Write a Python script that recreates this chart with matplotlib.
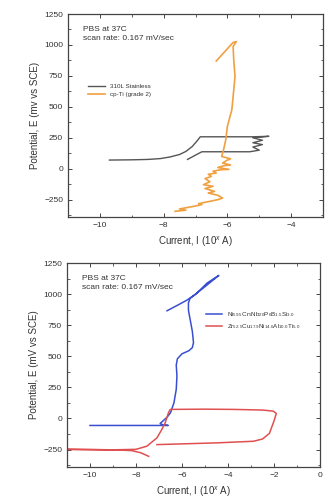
import matplotlib
matplotlib.use("Agg")
import matplotlib.pyplot as plt
from matplotlib.ticker import MultipleLocator, AutoMinorLocator

plt.rcParams["font.family"] = ["Liberation Sans", "DejaVu Sans"]
plt.rcParams["mathtext.fontset"] = "custom"
plt.rcParams["mathtext.rm"] = "Liberation Sans"
plt.rcParams["mathtext.it"] = "Liberation Sans:italic"

# ── dati pannello superiore ──────────────────────────────────────────────
ss_x = [-9.7, -9.0, -8.5, -8.1, -7.8, -7.5, -7.3, -7.1, -6.95, -6.85, -6.0, -5.2,
        -4.7, -5.2, -4.9, -5.2, -4.9, -5.2, -5.0, -5.3, -6.0, -6.8, -7.0, -7.25]
ss_y = [70, 72, 75, 82, 95, 115, 140, 180, 225, 258, 258, 258,
        262, 250, 230, 210, 195, 175, 150, 137, 137, 137, 110, 75]

ti_x = [-7.64, -7.3, -7.5, -7.06, -6.8, -6.9, -6.54, -6.3, -6.15, -6.3, -6.6, -6.4,
        -6.7, -6.45, -6.75, -6.55, -6.7, -6.5, -6.6, -6.35, -6.45, -6.2, -5.95, -6.3,
        -6.1, -5.9, -6.15, -6.0, -5.9, -6.18, -6.12, -6.05, -6.0, -5.92, -5.86, -5.81,
        -5.76, -5.8, -5.82, -5.72, -5.82, -6.35]
ti_y = [-344, -335, -325, -304, -290, -282, -263, -250, -237, -215, -196, -183,
        -160, -142, -129, -105, -80, -62, -45, -35, -20, -8, -5, 10,
        25, 30, 46, 70, 80, 99, 153, 234, 341, 420, 476, 610,
        745, 879, 987, 1027, 1020, 870]

# ── dati pannello inferiore ──────────────────────────────────────────────
ni_x = [-10.0, -8.0, -6.6, -6.85, -6.95, -6.8, -6.65, -6.5, -6.35, -6.25, -6.22,
        -6.25, -6.2, -6.0, -5.7, -5.55, -5.5, -5.55, -5.65, -5.72, -5.72, -5.65,
        -5.2, -4.8, -4.4, -4.9, -5.4, -5.8, -6.2, -6.65]
ni_y = [-56, -56, -56, -50, -40, -15, 10, 46, 126, 234, 341,
        430, 480, 520, 545, 570, 610, 700, 800, 870, 930, 965,
        1030, 1090, 1150, 1090, 1000, 950, 910, 866]

zr_x = [-7.45, -7.8, -8.2, -9.0, -10.0, -11.0, -10.0, -9.0, -8.0, -7.53, -7.09,
        -6.88, -6.73, -6.59, -6.51, -5.0, -3.76, -2.5, -2.03, -1.9, -2.0, -2.2,
        -2.5, -2.89, -4.49, -7.09]
zr_y = [-304, -275, -258, -252, -250, -248, -250, -252, -248, -223, -156,
        -89, -35, 46, 73, 75, 73, 68, 59, 40, -20, -120,
        -165, -183, -196, -210]

W, H = 325, 503
fig = plt.figure(figsize=(W / 100, H / 100), dpi=100)

TXT = "#333333"


def style(ax, xlim, ylabel):
    ax.set_xlim(*xlim)
    ax.set_ylim(-390, 1250)
    ax.xaxis.set_major_locator(MultipleLocator(2))
    ax.xaxis.set_minor_locator(AutoMinorLocator(2))
    ax.yaxis.set_major_locator(MultipleLocator(250))
    ax.yaxis.set_minor_locator(AutoMinorLocator(2))
    ax.tick_params(which="both", direction="in", top=True, right=True,
                   labelsize=6, colors="#444444", labelcolor=TXT)
    ax.tick_params(which="major", length=3, width=0.7)
    ax.tick_params(which="minor", length=1.8, width=0.6)
    for s in ax.spines.values():
        s.set_color("#444444")
        s.set_linewidth(0.9)
    ax.set_xlabel(r"Current, I (10$^{x}$ A)", fontsize=7, color=TXT, labelpad=4)
    ax.set_ylabel(ylabel, fontsize=7, color=TXT, labelpad=3)
    ax.text(0.06, 0.94, "PBS at 37C\nscan rate: 0.167 mV/sec", transform=ax.transAxes,
            fontsize=6, color=TXT, va="top", linespacing=1.3)


ax1 = fig.add_axes([68 / W, 1 - 217 / H, 255 / W, 203 / H])
ax1.plot(ss_x, ss_y, color="#555555", lw=1.0, label="310L Stainless")
ax1.plot(ti_x, ti_y, color="#f0a040", lw=1.2, label="cp-Ti (grade 2)")
style(ax1, (-11, -3), "Potential, E (mv vs SCE)")
ax1.legend(loc="upper left", bbox_to_anchor=(0.07, 0.67), frameon=False, fontsize=4.5,
           handlelength=2.6, labelcolor=TXT, borderaxespad=0)

ax2 = fig.add_axes([67 / W, 1 - 467 / H, 253 / W, 204 / H])
ax2.plot(ni_x, ni_y, color="#3a4fd0", lw=1.1,
         label=r"Ni$_{59.5}$Cr$_{5}$Nb$_{20}$P$_{6}$B$_{1.5}$Si$_{3.0}$")
ax2.plot(zr_x, zr_y, color="#e05050", lw=1.1,
         label=r"Zr$_{52.5}$Cu$_{17.9}$Ni$_{14.6}$Al$_{10.0}$Ti$_{5.0}$")
style(ax2, (-11, 0), "Potential, E (mV vs SCE)")
ax2.legend(loc="upper left", bbox_to_anchor=(0.54, 0.78), frameon=False, fontsize=4.5,
           handlelength=2.6, labelcolor=TXT, borderaxespad=0)

fig.savefig("out.png", dpi=100)
